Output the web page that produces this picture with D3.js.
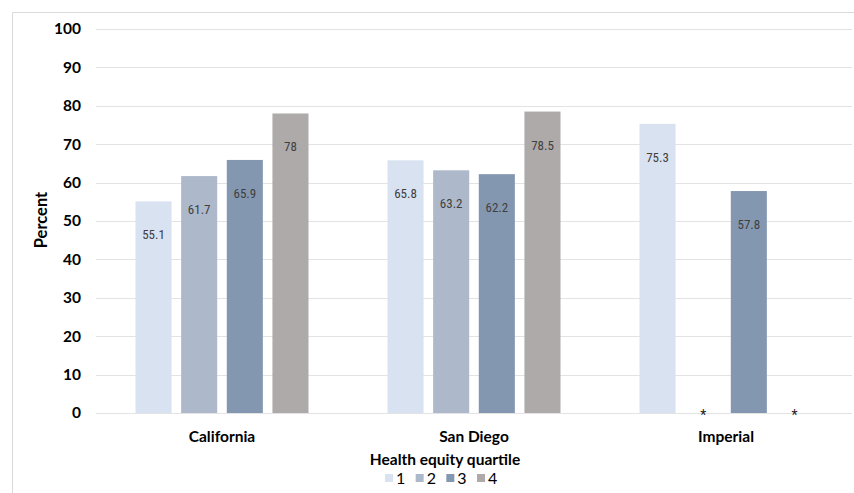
<!DOCTYPE html>
<html><head><meta charset="utf-8">
<script src="https://cdn.jsdelivr.net/npm/d3@7"></script>
<style>
body{margin:0;background:#fff;}
svg{display:block;}
</style></head>
<body>
<svg id="chart" width="854" height="493"></svg>
<script>
const categories = ["California", "San Diego", "Imperial"];
const quartiles = ["1", "2", "3", "4"];
const q1 = [55.1, 65.8, 75.3];
const q2 = [61.7, 63.2, null];
const q3 = [65.9, 62.2, 57.8];
const q4 = [78, 78.5, null];
const yTicks = [0, 10, 20, 30, 40, 50, 60, 70, 80, 90, 100];
const colors = ["#d9e2f1", "#adb9ca", "#8497b0", "#aeaaaa"];
const seriesVals = [q1, q2, q3, q4];

const svg = d3.select("#chart");
const font = "Lato, 'Open Sans', sans-serif";
const narrow = "'Liberation Sans Narrow', 'Arial Narrow', 'Roboto Condensed', sans-serif";

// outer frame
svg.append("path").attr("d", "M12.5,493 L12.5,12.5 L854,12.5")
  .attr("fill","none").attr("stroke","#d9d9d9").attr("stroke-width",1);

const x0 = d3.scaleBand().domain(categories).range([96, 852]);
const x1 = d3.scaleBand().domain(quartiles).range([39.5, 212.5]).paddingInner(0.21);
const y = d3.scaleLinear().domain([0, 100]).range([413, 29]);

// gridlines
svg.append("g").selectAll("line").data(yTicks).join("line")
  .attr("x1", 96).attr("x2", 852)
  .attr("y1", d => Math.round(y(d)) + 0.5).attr("y2", d => Math.round(y(d)) + 0.5)
  .attr("stroke", "#e3e3e3").attr("stroke-width", 1);

// y axis labels
const yAxis = d3.axisLeft(y).tickValues(yTicks).tickSize(0).tickPadding(0);
const ga = svg.append("g").attr("transform", "translate(81,0)").call(yAxis);
ga.select(".domain").remove();
ga.selectAll("text").attr("font-family", font).attr("font-weight", "bold")
  .attr("font-size", 15.5).attr("fill", "#000");

// data rows
const rows = [];
categories.forEach((c, i) => {
  quartiles.forEach((q, j) => {
    rows.push({cat: c, q: q, v: seriesVals[j][i], color: colors[j]});
  });
});

const bars = svg.append("g");
bars.selectAll("rect").data(rows.filter(d => d.v != null)).join("rect")
  .attr("x", d => x0(d.cat) + x1(d.q))
  .attr("width", x1.bandwidth())
  .attr("y", d => y(d.v))
  .attr("height", d => y(0) - y(d.v))
  .attr("fill", d => d.color);

bars.selectAll("text.val").data(rows.filter(d => d.v != null)).join("text")
  .attr("class", "val")
  .attr("x", d => x0(d.cat) + x1(d.q) + x1.bandwidth() / 2)
  .attr("y", d => y(d.v) + 38)
  .attr("text-anchor", "middle")
  .attr("font-family", narrow).attr("font-size", 13)
  .attr("transform-origin", "center")
  .attr("fill", "#404040")
  .text(d => d.v);

// asterisks for suppressed values
bars.selectAll("text.ast").data(rows.filter(d => d.v == null)).join("text")
  .attr("class", "ast")
  .attr("x", d => x0(d.cat) + x1(d.q) + x1.bandwidth() / 2)
  .attr("y", y(0) + 7)
  .attr("text-anchor", "middle")
  .attr("font-family", narrow).attr("font-size", 14)
  .attr("fill", "#222")
  .text("*");

// category labels
svg.append("g").selectAll("text").data(categories).join("text")
  .attr("x", d => x0(d) + x0.bandwidth() / 2)
  .attr("y", 442)
  .attr("text-anchor", "middle")
  .attr("font-family", font).attr("font-weight", "bold").attr("font-size", 15.5)
  .attr("fill", "#000")
  .text(d => d);

// y title
svg.append("text")
  .attr("transform", "translate(47,220) rotate(-90)")
  .attr("text-anchor", "middle")
  .attr("font-family", font).attr("font-weight", "bold").attr("font-size", 16.5)
  .attr("fill", "#000")
  .text("Percent");

// legend title
svg.append("text")
  .attr("x", 445).attr("y", 465)
  .attr("text-anchor", "middle")
  .attr("font-family", font).attr("font-weight", "bold").attr("font-size", 15.5)
  .attr("fill", "#000")
  .text("Health equity quartile");

const lx = d3.scalePoint().domain(quartiles).range([385, 477]);
const lg = svg.append("g").selectAll("g").data(quartiles).join("g")
  .attr("transform", d => `translate(${lx(d)},0)`);
lg.append("rect").attr("x", 0).attr("y", 474).attr("width", 8).attr("height", 8)
  .attr("fill", (d, i) => colors[i]);
lg.append("text").attr("x", 11).attr("y", 484)
  .attr("font-family", font).attr("font-size", 16).attr("fill", "#000")
  .text(d => d);
</script>
</body></html>
